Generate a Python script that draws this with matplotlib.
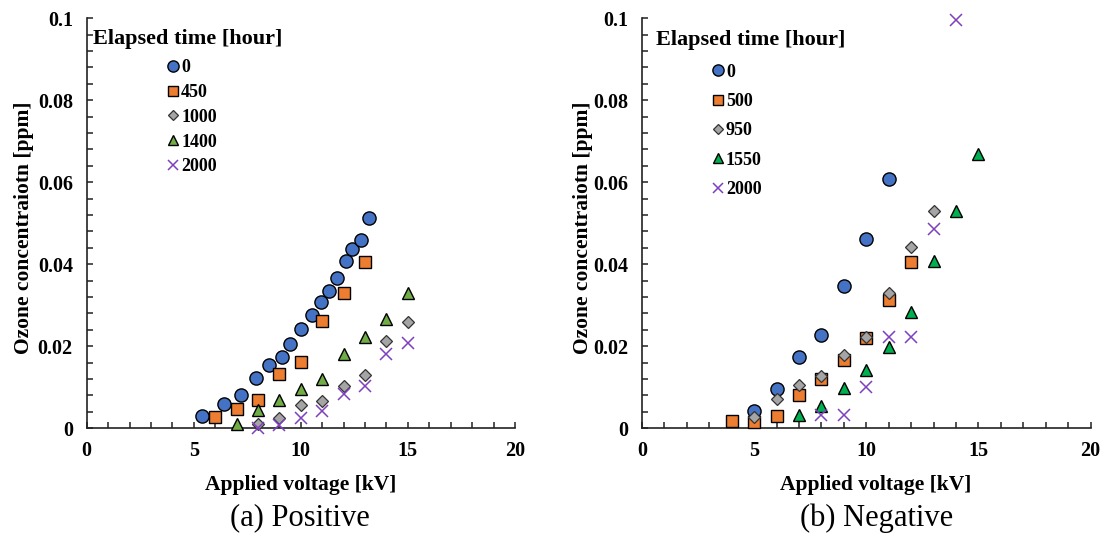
import matplotlib
matplotlib.use('Agg')
import matplotlib.pyplot as plt
from matplotlib.ticker import MultipleLocator, FuncFormatter

plt.rcParams['font.family'] = ['Liberation Serif', 'DejaVu Serif']

# (a) Positive
pos_labels = ['0', '450', '1000', '1400', '2000']
pos_v0 = [5.37, 6.42, 7.2, 7.9, 8.5, 9.1, 9.5, 10.0, 10.5, 10.95, 11.3, 11.7, 12.1, 12.4, 12.8, 13.2]
pos_c0 = [0.0029, 0.0058, 0.0080, 0.0123, 0.0155, 0.0175, 0.0206, 0.0242, 0.0277, 0.0307,
          0.0335, 0.0366, 0.0408, 0.0438, 0.0460, 0.0513]
pos_v450 = [6, 7, 8, 9, 10, 11, 12, 13]
pos_c450 = [0.0027, 0.0048, 0.0070, 0.0133, 0.0161, 0.0262, 0.0329, 0.0406]
pos_v1000 = [8, 9, 10, 11, 12, 13, 14, 15]
pos_c1000 = [0.0011, 0.0024, 0.0056, 0.0066, 0.0102, 0.0129, 0.0214, 0.0259]
pos_v1400 = [7, 8, 9, 10, 11, 12, 13, 14, 15]
pos_c1400 = [0.0011, 0.0044, 0.0068, 0.0096, 0.0121, 0.0181, 0.0222, 0.0266, 0.0331]
pos_v2000 = [8, 9, 10, 11, 12, 13, 14, 15]
pos_c2000 = [0.0000, 0.0007, 0.0024, 0.0042, 0.0083, 0.0104, 0.0181, 0.0207]

# (b) Negative
neg_labels = ['0', '500', '950', '1550', '2000']
neg_v0 = [5, 6, 7, 8, 9, 10, 11]
neg_c0 = [0.0042, 0.0095, 0.0175, 0.0228, 0.0347, 0.0462, 0.0609]
neg_v500 = [4, 5, 6, 7, 8, 9, 10, 11, 12]
neg_c500 = [0.0018, 0.0016, 0.0031, 0.0081, 0.0120, 0.0167, 0.0220, 0.0313, 0.0406]
neg_v950 = [5, 6, 7, 8, 9, 10, 11, 12, 13]
neg_c950 = [0.0028, 0.0071, 0.0106, 0.0128, 0.0179, 0.0222, 0.0331, 0.0441, 0.0530]
neg_v1550 = [7, 8, 9, 10, 11, 12, 13, 14, 15]
neg_c1550 = [0.0032, 0.0055, 0.0098, 0.0142, 0.0199, 0.0283, 0.0408, 0.0530, 0.0669]
neg_v2000 = [8, 9, 10, 11, 12, 13, 14]
neg_c2000 = [0.0032, 0.0032, 0.0100, 0.0223, 0.0223, 0.0485, 0.0995]

fig = plt.figure(figsize=(11.05, 5.36), dpi=100)
ax1 = fig.add_axes([0.0785, 0.201, 0.3875, 0.765])
ax2 = fig.add_axes([0.581, 0.201, 0.406, 0.765])


def style_axes(ax):
    ax.set_xlim(0, 20)
    ax.set_ylim(0, 0.1)
    for s in ['top', 'right']:
        ax.spines[s].set_visible(False)
    for s in ['left', 'bottom']:
        ax.spines[s].set_linewidth(1.2)
        ax.spines[s].set_color('#222222')
    ax.xaxis.set_major_locator(MultipleLocator(5))
    ax.xaxis.set_minor_locator(MultipleLocator(1))
    ax.yaxis.set_major_locator(MultipleLocator(0.02))
    ax.yaxis.set_minor_locator(MultipleLocator(0.004))
    ax.yaxis.set_major_formatter(FuncFormatter(lambda v, p: '%g' % round(v, 3)))
    ax.tick_params(which='both', direction='in', length=4, width=1.1, color='#222222')
    ax.tick_params(axis='y', pad=10, labelsize=14.5)
    ax.tick_params(axis='x', pad=9, labelsize=14.5)
    for lab in ax.get_xticklabels() + ax.get_yticklabels():
        lab.set_fontweight('bold')
    ax.set_xlabel('Applied voltage [kV]', fontsize=15.5, fontweight='bold')
    ax.set_ylabel('Ozone concentraiotn [ppm]', fontsize=15.5, fontweight='bold')


def plot_series(ax, series, labels, colors, green):
    styles = [
        dict(marker='o', ms=9.5, mfc=colors[0], mec='black', mew=1.0),
        dict(marker='s', ms=9.0, mfc=colors[1], mec='black', mew=1.0),
        dict(marker='D', ms=5.8, mfc=colors[2], mec='#333333', mew=0.9),
        dict(marker='^', ms=8.8, mfc=green, mec='black', mew=1.0),
        dict(marker='x', ms=8.8, mec=colors[4], mew=1.1),
    ]
    handles = []
    for (v, c), lab, st in zip(series, labels, styles):
        h, = ax.plot(v, c, linestyle='none', label=lab, clip_on=False, zorder=3, **st)
        handles.append(h)
    return handles


colors = ['#4472C4', '#ED7D31', '#A5A5A5', None, '#7F3FBF']

style_axes(ax1)
h1 = plot_series(ax1, [(pos_v0, pos_c0), (pos_v450, pos_c450), (pos_v1000, pos_c1000),
                       (pos_v1400, pos_c1400), (pos_v2000, pos_c2000)],
                 pos_labels, colors, '#70AD47')
leg1 = ax1.legend(handles=h1, loc='upper left', bbox_to_anchor=(0.189, 0.9), frameon=False,
                  handlelength=0.6, handletextpad=0.15, borderpad=0, borderaxespad=0,
                  labelspacing=0.43, markerscale=0.85, prop=dict(size=13, weight='bold'))
ax1.text(0.015, 0.95, 'Elapsed time [hour]', transform=ax1.transAxes, fontsize=16,
         fontweight='bold', ha='left', va='center')
ax1.yaxis.set_label_coords(-0.123, 0.49)
ax1.xaxis.set_label_coords(0.5, -0.114)

style_axes(ax2)
h2 = plot_series(ax2, [(neg_v0, neg_c0), (neg_v500, neg_c500), (neg_v950, neg_c950),
                       (neg_v1550, neg_c1550), (neg_v2000, neg_c2000)],
                 neg_labels, colors, '#00B050')
leg2 = ax2.legend(handles=h2, loc='upper left', bbox_to_anchor=(0.157, 0.889), frameon=False,
                  handlelength=0.6, handletextpad=0.15, borderpad=0, borderaxespad=0,
                  labelspacing=0.68, markerscale=0.85, prop=dict(size=13, weight='bold'))
ax2.text(0.032, 0.948, 'Elapsed time [hour]', transform=ax2.transAxes, fontsize=16,
         fontweight='bold', ha='left', va='center')
ax2.yaxis.set_label_coords(-0.11, 0.49)
ax2.xaxis.set_label_coords(0.521, -0.114)

fig.text(300 / 1105, 1 - 518 / 536, '(a) Positive', fontsize=22, ha='center', va='center')
fig.text(877 / 1105, 1 - 518 / 536, '(b) Negative', fontsize=22, ha='center', va='center')

fig.savefig('out.png', dpi=100)
